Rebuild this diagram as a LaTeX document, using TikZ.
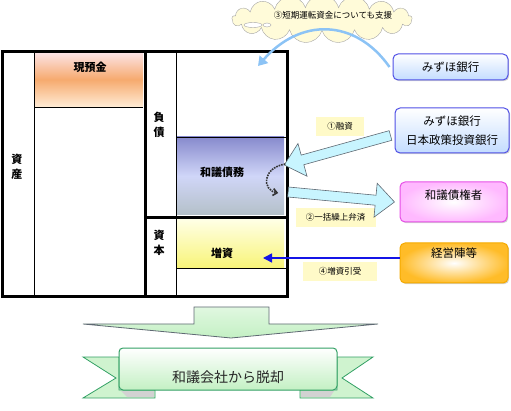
\documentclass[tikz,border=0pt]{standalone}
\usepackage{fontspec}
\setmainfont{Noto Sans CJK JP}
\usetikzlibrary{arrows.meta,calc,shapes.symbols,shadows}
\definecolor{sky}{RGB}{140,195,245}
\definecolor{ice}{RGB}{200,245,255}
\definecolor{slate}{RGB}{95,105,115}
\definecolor{royal}{RGB}{80,80,230}
\definecolor{navy}{RGB}{20,20,230}
\definecolor{paleblue}{RGB}{195,220,255}
\definecolor{orchid}{RGB}{230,80,230}
\definecolor{blush}{RGB}{255,185,255}
\definecolor{amber}{RGB}{245,170,0}
\definecolor{gold}{RGB}{255,188,40}
\definecolor{cream}{RGB}{255,250,200}
\definecolor{mint}{RGB}{195,240,195}
\definecolor{leaf}{RGB}{50,160,100}

\begin{document}
\begin{tikzpicture}[x=1pt,y=-1pt,
    party/.style={draw,rounded corners=5pt,line width=1pt,font=\fontsize{11.5}{19}\selectfont,
      drop shadow={shadow xshift=1.2pt,shadow yshift=-1.2pt,opacity=.35}},
    tag/.style={fill=cream,font=\fontsize{8.5}{9}\selectfont,inner sep=0pt},
    sheet/.style={font=\fontsize{11}{15}\selectfont\bfseries,align=center},
    fat/.style={draw=slate,fill=ice,line width=0.6pt}]
  \useasboundingbox (0,0) rectangle (511,411);

  \node[cloud,cloud puffs=17,cloud ignores aspect,draw=gray!70,fill=cream!70,minimum width=180pt,minimum height=48pt,inner sep=0pt] (cloud) at (322,19) {};
  \draw[gray!70,fill=white] (253,25) ellipse (9 and 2.5) (267,25) ellipse (4 and 2);
  \node[font=\fontsize{8.5}{9}\selectfont] (cloudtxt) at (333,15) {③短期運転資金についても支援};

  \node[minimum width=109pt,minimum height=55pt,inner sep=0pt,
    top color={rgb,255:red,252;green,228;blue,232},bottom color={rgb,255:red,255;green,236;blue,214},
    middle color={rgb,255:red,246;green,170;blue,110}] (cash) at (88.5,79.5) {};
  \node[minimum width=108pt,minimum height=78pt,inner sep=0pt,
    top color={rgb,255:red,135;green,138;blue,205},bottom color={rgb,255:red,180;green,192;blue,200},
    middle color={rgb,255:red,208;green,214;blue,248}] (debt) at (230,176) {};
  \node[minimum width=108pt,minimum height=48pt,inner sep=0pt,
    top color={rgb,255:red,255;green,255;blue,228},bottom color={rgb,255:red,248;green,244;blue,120}] (capinc) at (230,244) {};
  \node[sheet] (cashtxt) at (90,67) {現預金};
  \node[sheet] (debttxt) at (222,172) {和議債務};
  \node[sheet] (captxt) at (222,253) {増資};
  \node[sheet] (assets) at (17,167) {資\\産};
  \node[sheet] (liab) at (159,125) {負\\債};
  \node[sheet] (equity) at (159,243) {資\\本};
  \draw[line width=0.8pt] (34,52) -- (34,297) (176,52) -- (176,297) (34,107) -- (143,107)
    (176,137) -- (287,137) (176,268) -- (287,268);
  \draw[line width=3pt] (2,52) rectangle (287,297) (145,52) -- (145,297) (145,218) -- (287,218);

  \node[party,draw=royal,top color=white,bottom color=paleblue,minimum width=115pt,minimum height=26pt] (bank1) at (450.5,67) {みずほ銀行};
  \node[party,draw=royal,top color=white,bottom color=paleblue,minimum width=114pt,minimum height=45pt,align=center] (bank2) at (452,130.5) {みずほ銀行\\日本政策投資銀行};
  \node[party,draw=orchid,inner color=white,outer color=blush,minimum width=107pt,minimum height=40pt,text depth=15pt] (creditor) at (453.5,202) {和議債権者};
  \node[party,draw=amber,inner color=white,outer color=gold,minimum width=108pt,minimum height=40pt,text depth=20pt] (mgmt) at (454,263) {経営陣等};

  \node[tag,minimum width=48pt,minimum height=19pt] (lend) at (340,126.5) {①融資};
  \node[tag,minimum width=80pt,minimum height=19pt] (repay) at (335.5,217.5) {②一括繰上弁済};
  \node[tag,minimum width=74pt,minimum height=19pt] (subscr) at (340,271.5) {④増資引受};

  \coordinate (cashtip) at (258,66);
  \draw[sky,line width=2.5pt,-{Triangle[length=9pt,width=11pt]}] ([xshift=-3pt]bank1.west) .. controls (355,18) and (300,18) .. (cashtip);

  \coordinate (a1s) at ([xshift=-4pt,yshift=-5pt]bank2.west);
  \coordinate (a1t) at ([yshift=11pt]debt.east);
  \coordinate (a2s) at ([xshift=4pt,yshift=-16pt]debt.east);
  \coordinate (a2t) at ([xshift=-5pt]creditor.west);
  \foreach \s/\t in {a1s/a1t,a2s/a2t}{
    \coordinate (h) at ($(\t)!19pt!(\s)$);
    \draw[fat] ($(\s)!5pt!90:(\t)$) -- ($(h)!5pt!90:(\t)$) -- ($(h)!17pt!90:(\t)$) -- (\t)
      -- ($(h)!17pt!-90:(\t)$) -- ($(h)!5pt!-90:(\t)$) -- ($(\s)!5pt!-90:(\t)$) -- cycle;
  }

  \coordinate (curla) at ([xshift=1pt,yshift=12pt]debt.east);
  \coordinate (curlb) at ([xshift=-6pt,yshift=-17pt]debt.east);
  \draw[densely dotted,line width=1.6pt,black!80,-{Straight Barb[length=4pt,width=7pt]}] (curla) .. controls (262,168) and (262,190) .. (curlb);

  \coordinate (captip) at (263,258);
  \draw[navy,line width=1.5pt,-{Triangle[length=9pt,width=9pt]}] ([yshift=5pt]mgmt.west) -- (captip);

  \draw[slate,top color=mint!50,bottom color=mint,line width=0.8pt] (194,307) -- (269,307) -- (269,324) -- (378,324)
    -- (231,338) -- (83,324) -- (194,324) -- cycle;

  \draw[leaf,fill=mint!80,line width=0.8pt] (119,357) -- (83,357) -- (116,378) -- (83,398) -- (155,398) -- (155,390) -- (119,390) -- cycle;
  \draw[leaf,fill=mint!80,line width=0.8pt] (337,357) -- (373,357) -- (342,378) -- (373,398) -- (300,398) -- (300,390) -- (337,390) -- cycle;
  \fill[gray!35] (121,391) -- (154,391) -- (154,397) -- (127,397) -- cycle;
  \fill[gray!35] (301,391) -- (334,391) -- (330,397) -- (301,397) -- cycle;
  \node[draw=leaf,line width=1pt,rounded corners=4pt,top color=white,bottom color=mint,minimum width=218pt,minimum height=42pt,inner sep=0pt] (exit) at (228,369) {};
  \node[font=\fontsize{14}{16}\selectfont,text=black!85] (exittxt) at (228,377) {和議会社から脱却};
\end{tikzpicture}
\end{document}
